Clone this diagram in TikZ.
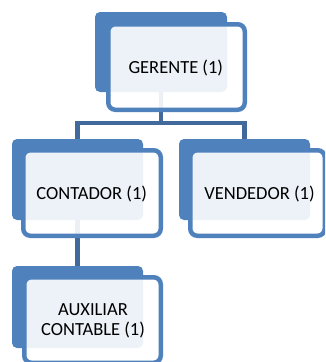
\documentclass[tikz,border=0pt]{standalone}
\usepackage{fontspec}
\setmainfont{Carlito}
\definecolor{accent}{HTML}{4F81BD}
\definecolor{connc}{HTML}{41699C}
\pgfdeclarelayer{background}
\pgfsetlayers{background,main}
\begin{document}
\begin{tikzpicture}[x=1pt,y=-1pt,
  darkbox/.style={rectangle,rounded corners=5pt,fill=accent,draw=none,inner sep=0pt},
  outbox/.style={rectangle,rounded corners=7pt,draw=accent,line width=4.5pt,fill=white,fill opacity=0.9,draw opacity=1,inner sep=0pt},
  conn/.style={draw=connc,line width=4.5pt},
  lbl/.style={font=\fontsize{18.5}{19.5}\selectfont,align=center,text=black,inner sep=0pt}]
\useasboundingbox (0,0) rectangle (325,362);
\clip (0,0) rectangle (325,362);
% back boxes
\node[darkbox,minimum width=132pt,minimum height=80pt] (gdark) at (161,52) {};
\node[darkbox,minimum width=131pt,minimum height=81pt] (cdark) at (77.5,179.5) {};
\node[darkbox,minimum width=131pt,minimum height=81pt] (vdark) at (244.5,179.5) {};
\node[darkbox,minimum width=131pt,minimum height=82pt] (adark) at (77.5,307) {};
% connectors, behind all boxes
\coordinate (bar) at (161,123);
\begin{pgfonlayer}{background}
\draw[conn] (gdark.south) -- (bar);
\draw[conn] (cdark.north) |- (bar) -| (vdark.north);
\draw[conn] (cdark.south) -- (adark.north);
\end{pgfonlayer}
% front boxes
\node[outbox,minimum width=136.5pt,minimum height=85.5pt] (gbox) at (176.5,67) {};
\node[outbox,minimum width=137.5pt,minimum height=85.5pt] (cbox) at (92,193) {};
\node[outbox,minimum width=134.5pt,minimum height=85.5pt] (vbox) at (257.5,193) {};
\node[outbox,minimum width=136.5pt,minimum height=85.5pt] (abox) at (92.5,320) {};
% labels
\node[lbl] (gtxt) at (175.8,68.5) {GERENTE (1)};
\node[lbl] (ctxt) at (91.7,194) {CONTADOR (1)};
\node[lbl] (vtxt) at (259.5,194) {VENDEDOR (1)};
\node[lbl] (atxt) at (93,321) {AUXILIAR\\CONTABLE (1)};
\end{tikzpicture}
\end{document}
